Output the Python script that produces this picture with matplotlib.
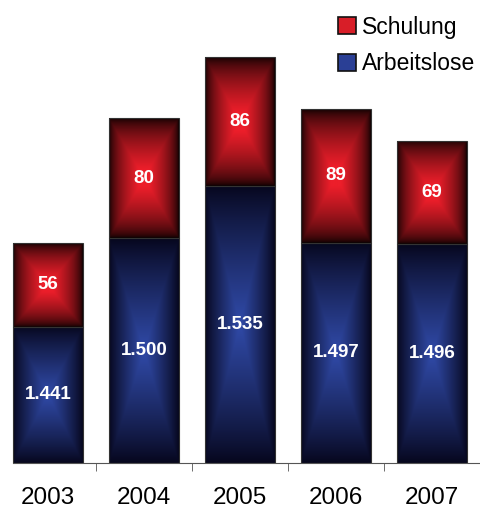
import numpy as np
import matplotlib
matplotlib.use("Agg")
import matplotlib.pyplot as plt
from matplotlib.patches import Patch

plt.rcParams["font.family"] = ["Liberation Sans", "DejaVu Sans"]

years = ["2003", "2004", "2005", "2006", "2007"]
arbeitslose = [1441, 1500, 1535, 1497, 1496]
schulung = [56, 80, 86, 89, 69]

Y_MIN = 1350
Y_MAX = 1658.7

RED_CENTER = np.array([236, 30, 42]) / 255
RED_EDGE = np.array([8, 0, 0]) / 255
BLUE_CENTER = np.array([48, 74, 168]) / 255
BLUE_EDGE = np.array([6, 6, 28]) / 255


def gradient(center, edge, plateau, power, n=201):
    u = np.linspace(-1, 1, n)
    uu, vv = np.meshgrid(u, u)
    t = np.maximum(np.abs(uu), np.abs(vv))
    w = np.clip((1 - t) / plateau, 0, 1) ** power
    return edge + (center - edge) * w[..., None]


def fill_bars(ax, bars, img):
    for bar in bars:
        x0, y0 = bar.get_x(), bar.get_y()
        x1, y1 = x0 + bar.get_width(), y0 + bar.get_height()
        im = ax.imshow(img, extent=(x0, x1, y0, y1), aspect="auto",
                       interpolation="bilinear", zorder=2)
        im.set_clip_path(bar)


def label_bars(ax, bars, values):
    for bar, v in zip(bars, values):
        text = f"{v:,}".replace(",", ".")
        ax.text(bar.get_x() + bar.get_width() / 2,
                bar.get_y() + bar.get_height() / 2, text,
                ha="center", va="center", color="white",
                fontsize=13.5, fontweight="bold", zorder=4)


def main() -> None:
    fig = plt.figure(figsize=(4.8, 5.09), dpi=100)
    ax = fig.add_axes([0, 46 / 509, 1, 463 / 509])
    x = np.arange(len(years))
    width = 0.72

    base = np.array(arbeitslose) - Y_MIN
    blue = ax.bar(x, base, width, bottom=Y_MIN, facecolor="none",
                  edgecolor="#333333", linewidth=0.8, zorder=3)
    red = ax.bar(x, schulung, width, bottom=arbeitslose, facecolor="none",
                 edgecolor="#333333", linewidth=0.8, zorder=3)
    fill_bars(ax, blue, gradient(BLUE_CENTER, BLUE_EDGE, 1.0, 0.85))
    fill_bars(ax, red, gradient(RED_CENTER, RED_EDGE, 0.85, 0.6))
    label_bars(ax, blue, arbeitslose)
    label_bars(ax, red, schulung)

    ax.set_xlim(-0.5, 4.5)
    ax.set_ylim(Y_MIN, Y_MAX)
    for side in ["left", "top", "right"]:
        ax.spines[side].set_visible(False)
    ax.spines["bottom"].set_bounds(-0.36, 4.5)
    ax.spines["bottom"].set_color("#555555")
    ax.spines["bottom"].set_zorder(5)
    ax.set_yticks([])
    ax.set_xticks(x)
    ax.set_xticklabels(years, fontsize=17.5)
    ax.set_xticks(x[:-1] + 0.5, minor=True)
    ax.tick_params(axis="x", which="major", length=0, pad=17)
    ax.tick_params(axis="x", which="minor", length=6, color="#555555")

    handles = [
        Patch(facecolor="#d81e28", edgecolor="#111111", linewidth=1.2,
              label="Schulung"),
        Patch(facecolor="#2a3f95", edgecolor="#111111", linewidth=1.2,
              label="Arbeitslose"),
    ]
    fig.legend(handles=handles, loc="upper right",
               bbox_to_anchor=(1.034, 1.01), frameon=False, fontsize=16.5,
               handlelength=0.75, handleheight=0.78, handletextpad=0.3,
               labelspacing=0.6)

    fig.savefig("out.png", dpi=100)


if __name__ == "__main__":
    main()
